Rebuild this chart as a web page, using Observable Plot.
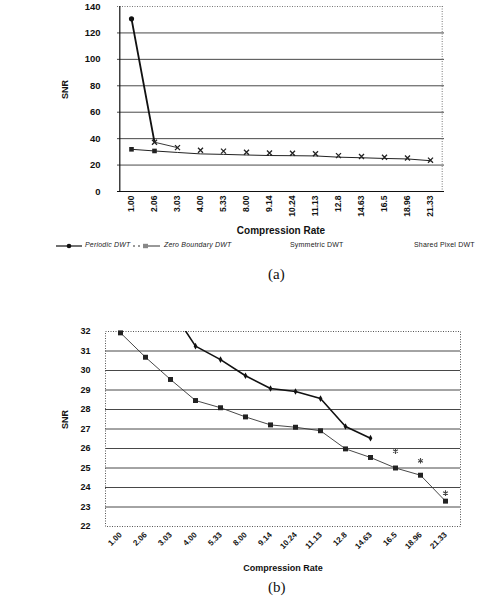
<!DOCTYPE html>
<html>
<head>
<meta charset="utf-8">
<script src="https://cdn.jsdelivr.net/npm/d3@7"></script>
<script src="https://cdn.jsdelivr.net/npm/@observablehq/plot@0.6"></script>
<style>
  html, body { margin: 0; padding: 0; background: #fff; }
  #page { position: relative; width: 486px; height: 612px; overflow: hidden; font-family: "Liberation Sans", Arial, sans-serif; }
  .chart { position: absolute; left: 0; }
  .legend { position: absolute; top: 241px; left: 0; width: 486px; height: 12px; font-size: 7px; letter-spacing: 0.2px; color: #222; }
  .legend span { position: absolute; white-space: nowrap; }
  .legend svg { position: absolute; }
  .cap { position: absolute; font-family: "Liberation Serif", "Times New Roman", serif; font-size: 15px; color: #111; }
</style>
</head>
<body>
<div id="page">
  <div id="chartA" class="chart" style="top:0px"></div>
  <div class="legend">
    <svg style="left:55px;top:1px" width="28" height="8"><line x1="1" y1="4" x2="27" y2="4" stroke="#111" stroke-width="1.2"/><circle cx="14" cy="4" r="2.3" fill="#111"/></svg>
    <span style="left:85px;top:0px;font-style:italic">Periodic DWT</span>
    <svg style="left:132px;top:1px" width="29" height="8"><line x1="1" y1="4" x2="11" y2="4" stroke="#333" stroke-width="1" stroke-dasharray="2,3"/><line x1="12" y1="4" x2="28" y2="4" stroke="#333" stroke-width="1"/><rect x="11" y="1.8" width="5" height="4.4" fill="#888"/></svg>
    <span style="left:164px;top:0px;font-style:italic">Zero Boundary DWT</span>
    <span style="left:290px;top:0px">Symmetric DWT</span>
    <span style="left:414px;top:0px">Shared Pixel DWT</span>
  </div>
  <div class="cap" style="left:268px;top:266px">(a)</div>
  <div id="chartB" class="chart" style="top:300px"></div>
  <div class="cap" style="left:268px;top:579px">(b)</div>
</div>
<script>
// ---- data ----
const categories = ["1.00","2.06","3.03","4.00","5.33","8.00","9.14","10.24","11.13","12.8","14.63","16.5","18.96","21.33"];
const periodicDWT = [130.7, 37.3, 33.2, 31.25, 30.56, 29.73, 29.08, 28.92, 28.56, 27.13, 26.53, 25.86, 25.37, 23.71];
const zeroBoundaryDWT = [31.93, 30.68, 29.54, 28.46, 28.09, 27.62, 27.21, 27.09, 26.91, 25.98, 25.54, 25.0, 24.63, 23.30];
const yTicksA = [0, 20, 40, 60, 80, 100, 120, 140];
const yTicksB = [22, 23, 24, 25, 26, 27, 28, 29, 30, 31, 32];

const periodic = categories.map((c, i) => ({rate: c, snr: periodicDWT[i], i}));
const zero = categories.map((c, i) => ({rate: c, snr: zeroBoundaryDWT[i], i}));

const tickFont = {fontFamily: "Liberation Sans, Arial, sans-serif", fontWeight: "bold", fontSize: 9, letterSpacing: "1.2px"};

// ---- chart (a) ----
const chartA = Plot.plot({
  width: 486, height: 250,
  marginLeft: 117, marginRight: 42, marginTop: 6, marginBottom: 59,
  style: {background: "transparent", color: "#111", fontFamily: "Liberation Sans, Arial, sans-serif"},
  x: {type: "point", domain: categories, padding: 0.5},
  y: {domain: [0, 140]},
  marks: [
    Plot.ruleY(yTicksA.filter(d => d > 0 && d < 140), {stroke: "#333", strokeWidth: 0.9}),
    Plot.ruleY([140], {stroke: "#777", strokeDasharray: "1,1.5"}),
    Plot.ruleX([categories[categories.length - 1]], {dx: 11.7, stroke: "#777", strokeDasharray: "1,1.5"}),
    Plot.ruleY([0], {stroke: "#111", strokeWidth: 1.2}),
    Plot.ruleX([categories[0]], {dx: -11.7, stroke: "#111", strokeWidth: 1.2}),
    Plot.axisY({ticks: yTicksA, tickSize: 0, tickPadding: 17, label: null, ...tickFont, fontSize: 9.5}),
    Plot.axisX({tickRotate: -90, tickSize: 0, tickPadding: 4, label: null, ...tickFont, fontSize: 8.5, letterSpacing: "1px"}),
    Plot.text(["SNR"], {frameAnchor: "left", dx: -52, rotate: -90, fontWeight: "bold", fontSize: 9, letterSpacing: "0.5px"}),
    Plot.text(["Compression Rate"], {frameAnchor: "bottom", dy: 42, fontWeight: "bold", fontSize: 10, letterSpacing: "1.6px"}),
    // Zero Boundary DWT
    Plot.line(zero, {x: "rate", y: "snr", stroke: "#222", strokeWidth: 1}),
    Plot.dot(zero.filter(d => d.i < 2), {x: "rate", y: "snr", symbol: "square", r: 2.6, fill: "#222"}),
    // Periodic DWT
    Plot.line(periodic.filter(d => d.i < 2), {x: "rate", y: "snr", stroke: "#111", strokeWidth: 1.8}),
    Plot.line(periodic.filter(d => d.i >= 1 && d.i < 3), {x: "rate", y: "snr", stroke: "#222", strokeWidth: 0.9}),
    Plot.dot(periodic.filter(d => d.i < 1), {x: "rate", y: "snr", r: 2.6, fill: "#111"}),
    Plot.dot(periodic.filter(d => d.i >= 1), {x: "rate", y: "snr", symbol: "times", r: 2.4, stroke: "#222", strokeWidth: 1.3})
  ]
});
document.getElementById("chartA").appendChild(chartA);

// ---- chart (b) ----
const chartB = Plot.plot({
  width: 486, height: 280,
  marginLeft: 105, marginRight: 26, marginTop: 31, marginBottom: 54,
  style: {background: "transparent", color: "#111", fontFamily: "Liberation Sans, Arial, sans-serif"},
  x: {type: "point", domain: categories, padding: 0.5},
  y: {domain: [22, 32]},
  marks: [
    Plot.ruleY(yTicksB.filter(d => d > 22 && d < 32), {stroke: "#333", strokeWidth: 0.9}),
    Plot.frame({stroke: "#555", strokeDasharray: "1,1.5"}),
    Plot.axisY({ticks: yTicksB, tickSize: 0, tickPadding: 15, label: null, ...tickFont}),
    Plot.axisX({tickRotate: -45, tickSize: 0, tickPadding: 7, label: null, ...tickFont, fontSize: 8, letterSpacing: "0.8px"}),
    Plot.text(["SNR"], {frameAnchor: "left", dx: -40, rotate: -90, fontWeight: "bold", fontSize: 9, letterSpacing: "0.5px"}),
    Plot.text(["Compression Rate"], {frameAnchor: "bottom", dy: 44, fontWeight: "bold", fontSize: 9, letterSpacing: "1.3px"}),
    // Zero Boundary DWT
    Plot.line(zero, {x: "rate", y: "snr", stroke: "#333", strokeWidth: 0.9}),
    Plot.dot(zero, {x: "rate", y: "snr", symbol: "square", r: 2.8, fill: "#222"}),
    // Periodic DWT
    Plot.line(periodic.filter(d => d.i <= 10), {x: "rate", y: "snr", stroke: "#111", strokeWidth: 1.6, clip: true}),
    Plot.dot(periodic.filter(d => d.i >= 3 && d.i <= 10), {x: "rate", y: "snr", symbol: "diamond", r: 2, fill: "#111"}),
    Plot.dot(periodic.filter(d => d.i > 10), {x: "rate", y: "snr", symbol: "asterisk", r: 2.6, stroke: "#444", strokeWidth: 1.1})
  ]
});
document.getElementById("chartB").appendChild(chartB);
</script>
</body>
</html>
